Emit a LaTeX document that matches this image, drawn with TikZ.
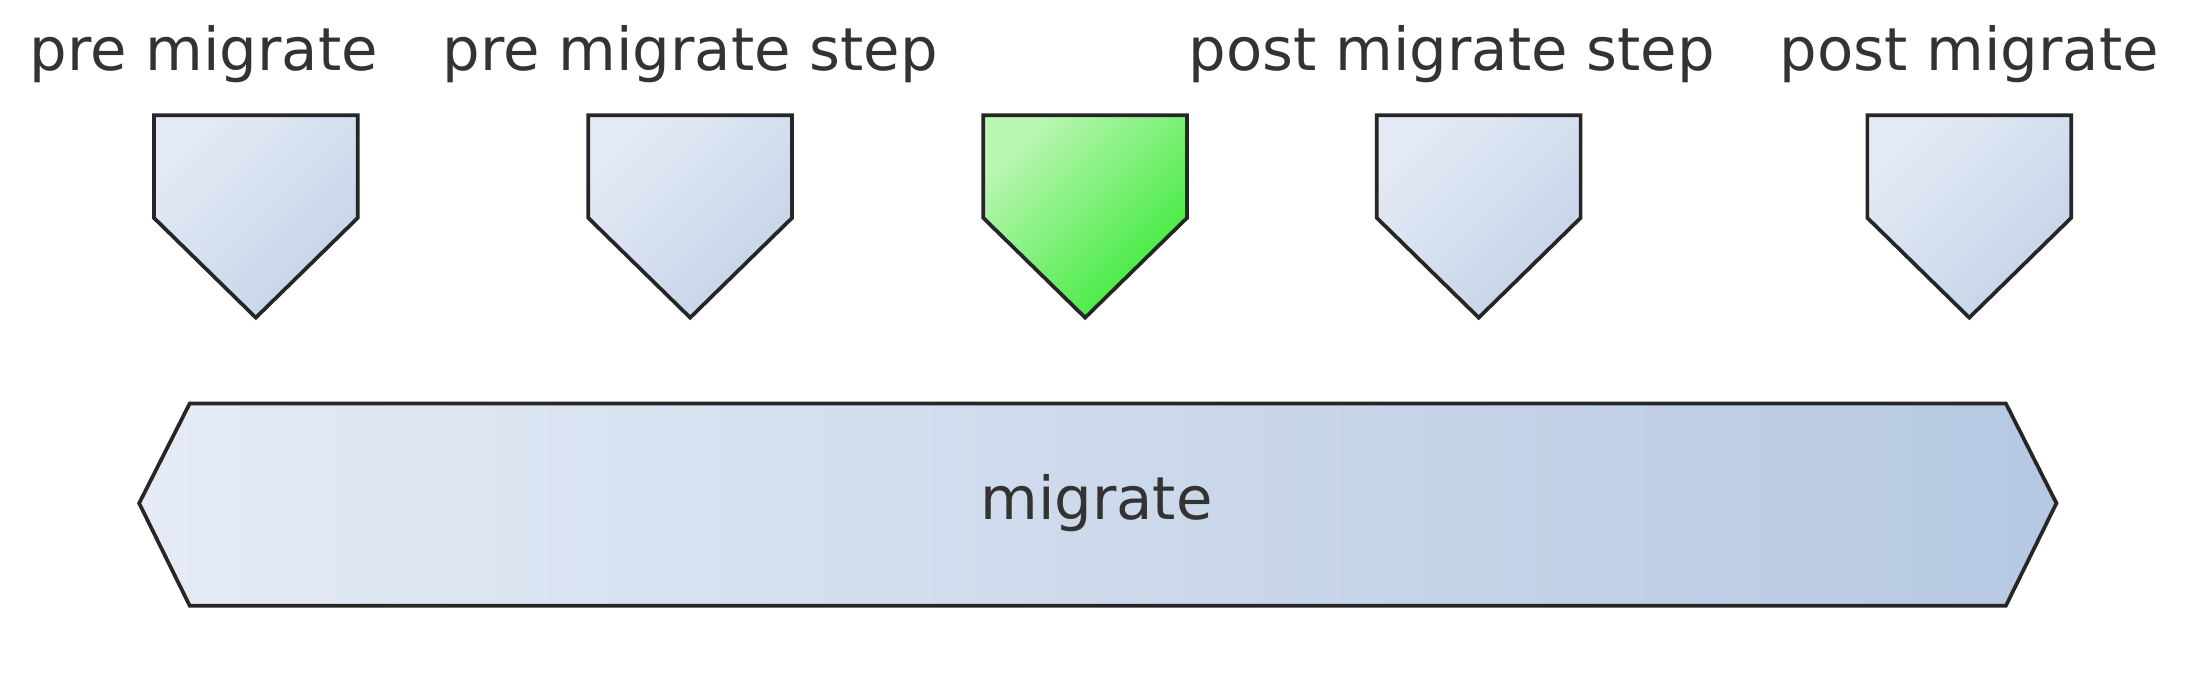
\documentclass[tikz,border=0pt]{standalone}
\usepackage{fontspec}
\setmainfont{DejaVu Sans}
\usepackage{tikz}
\definecolor{StepLight}{RGB}{228,234,245}
\definecolor{StepDark}{RGB}{196,211,232}
\definecolor{RunLight}{RGB}{186,246,180}
\definecolor{RunDark}{RGB}{60,234,56}
\definecolor{BarLight}{RGB}{229,235,246}
\definecolor{BarDark}{RGB}{182,200,226}

\begin{document}
\begin{tikzpicture}[
          lbl/.style={font=\fontsize{12}{14}\selectfont, text=black!80, anchor=base, inner sep=0pt},
          stepshape/.style={draw=black!85, line width=0.75pt, line join=miter,
                            top color=StepLight, bottom color=StepDark, shading angle=45},
          runshape/.style={stepshape, top color=RunLight, bottom color=RunDark, shading angle=45},
          barshape/.style={draw=black!85, line width=0.75pt,
                           left color=BarLight, right color=BarDark}
        ]
        \useasboundingbox (0,0) rectangle (15.68,4.82);

        % labels
        \node[lbl] (lpre)  at (1.45, 4.32)  {pre migrate};
        \node[lbl] (lpres) at (4.91, 4.32)  {pre migrate step};
        \node[lbl] (lposs) at (10.33, 4.32) {post migrate step};
        \node[lbl] (lpost) at (14.01, 4.32) {post migrate};

        % step markers
        \draw[stepshape] (1.095,4.00) -- ++(1.45,0) -- ++(0,-0.73)
              -- ++(-0.725,-0.71) -- ++(-0.725,0.71) -- cycle;
        \draw[stepshape] (4.185,4.00) -- ++(1.45,0) -- ++(0,-0.73)
              -- ++(-0.725,-0.71) -- ++(-0.725,0.71) -- cycle;
        \draw[runshape]  (6.995,4.00) -- ++(1.45,0) -- ++(0,-0.73)
              -- ++(-0.725,-0.71) -- ++(-0.725,0.71) -- cycle;
        \draw[stepshape] (9.795,4.00) -- ++(1.45,0) -- ++(0,-0.73)
              -- ++(-0.725,-0.71) -- ++(-0.725,0.71) -- cycle;
        \draw[stepshape] (13.285,4.00) -- ++(1.45,0) -- ++(0,-0.73)
              -- ++(-0.725,-0.71) -- ++(-0.725,0.71) -- cycle;

        % migrate bar
        \draw[barshape] (0.99,1.24) -- (1.35,1.95) -- (14.27,1.95)
              -- (14.63,1.24) -- (14.27,0.51) -- (1.35,0.51) -- cycle;
        \node[font=\fontsize{12}{14}\selectfont, text=black!80] (mig) at (7.80, 1.24) {migrate};
      \end{tikzpicture}
\end{document}
